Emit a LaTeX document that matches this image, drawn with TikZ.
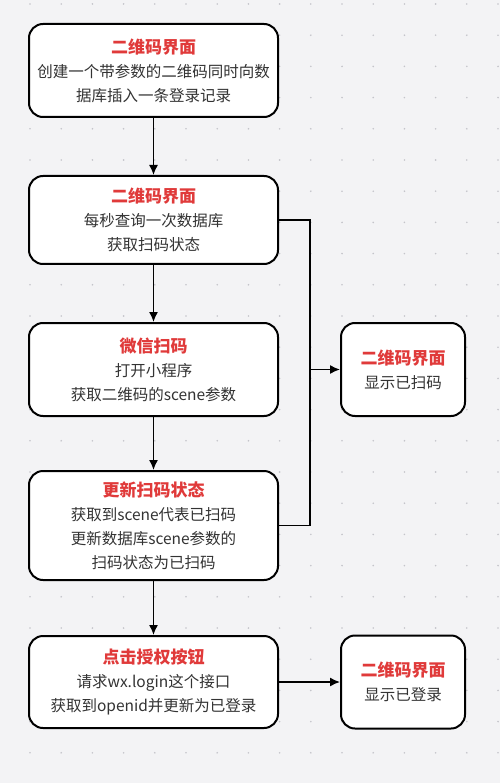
\documentclass[tikz,border=0pt]{standalone}
\usepackage{fontspec}
\setmainfont{Noto Sans CJK SC}
\usetikzlibrary{arrows.meta}
\definecolor{bgc}{HTML}{F3F3F5}
\definecolor{dotc}{HTML}{C4C4CA}
\definecolor{titlec}{HTML}{E03A3A}
\definecolor{textc}{HTML}{333333}
\newcommand{\boxtitle}[1]{{\fontsize{17}{24}\selectfont\bfseries\color{titlec}#1}}
\begin{document}
\begin{tikzpicture}[x=1pt,y=-1pt,
    stepbox/.style={draw=black,line width=2pt,fill=white,rounded corners=14pt,
      align=center,text=textc,font=\fontsize{15.5}{24}\selectfont,inner sep=0pt},
    leftbox/.style={stepbox,minimum width=249pt},
    rightbox/.style={stepbox,minimum width=124pt,minimum height=93pt},
    flow/.style={line width=1.5pt,-{Latex[length=10pt,width=9pt]}}]
      \fill[bgc] (0,0) rectangle (500,783);
      \useasboundingbox (0,0) rectangle (500,783);
      \foreach \i in {0,...,15}
        \foreach \j in {0,...,25}
          \fill[dotc] (30+31.2*\i,4+31.2*\j) circle (0.9);
      \draw
        (153.5,70.5) node[leftbox,minimum height=93pt] (b1){\boxtitle{二维码界面}\\创建一个带参数的二维码同时向数\\据库插入一条登录记录}
        (153.5,220) node[leftbox,minimum height=88pt] (b2){\boxtitle{二维码界面}\\每秒查询一次数据库\\获取扫码状态}
        (153.5,369.5) node[leftbox,minimum height=93pt] (b3){\boxtitle{微信扫码}\\打开小程序\\获取二维码的scene参数}
        (153.5,525.5) node[leftbox,minimum height=109pt] (b4){\boxtitle{更新扫码状态}\\获取到scene代表已扫码\\更新数据库scene参数的\\扫码状态为已扫码}
        (153.5,682) node[leftbox,minimum height=92pt] (b5){\boxtitle{点击授权按钮}\\请求wx.login这个接口\\获取到openid并更新为已登录}
        (403,369.5) node[rightbox] (r1){\boxtitle{二维码界面}\\显示已扫码}
        (403,682) node[rightbox] (r2){\boxtitle{二维码界面}\\显示已登录};
      \coordinate (j1) at (310,220);
      \coordinate (j2) at (310,525.5);
      \coordinate (j3) at (310,369.5);
      \begin{scope}[flow]
        \draw (b1) to (b2);
        \draw (b2) to (b3);
        \draw (b3) to (b4);
        \draw (b4) to (b5);
        \draw (j3) to (r1);
        \draw (b5) to (r2);
      \end{scope}
      \draw[line width=1.5pt] (b2.east) -- (j1) -- (j2) -- (b4.east);
    \end{tikzpicture}
\end{document}
